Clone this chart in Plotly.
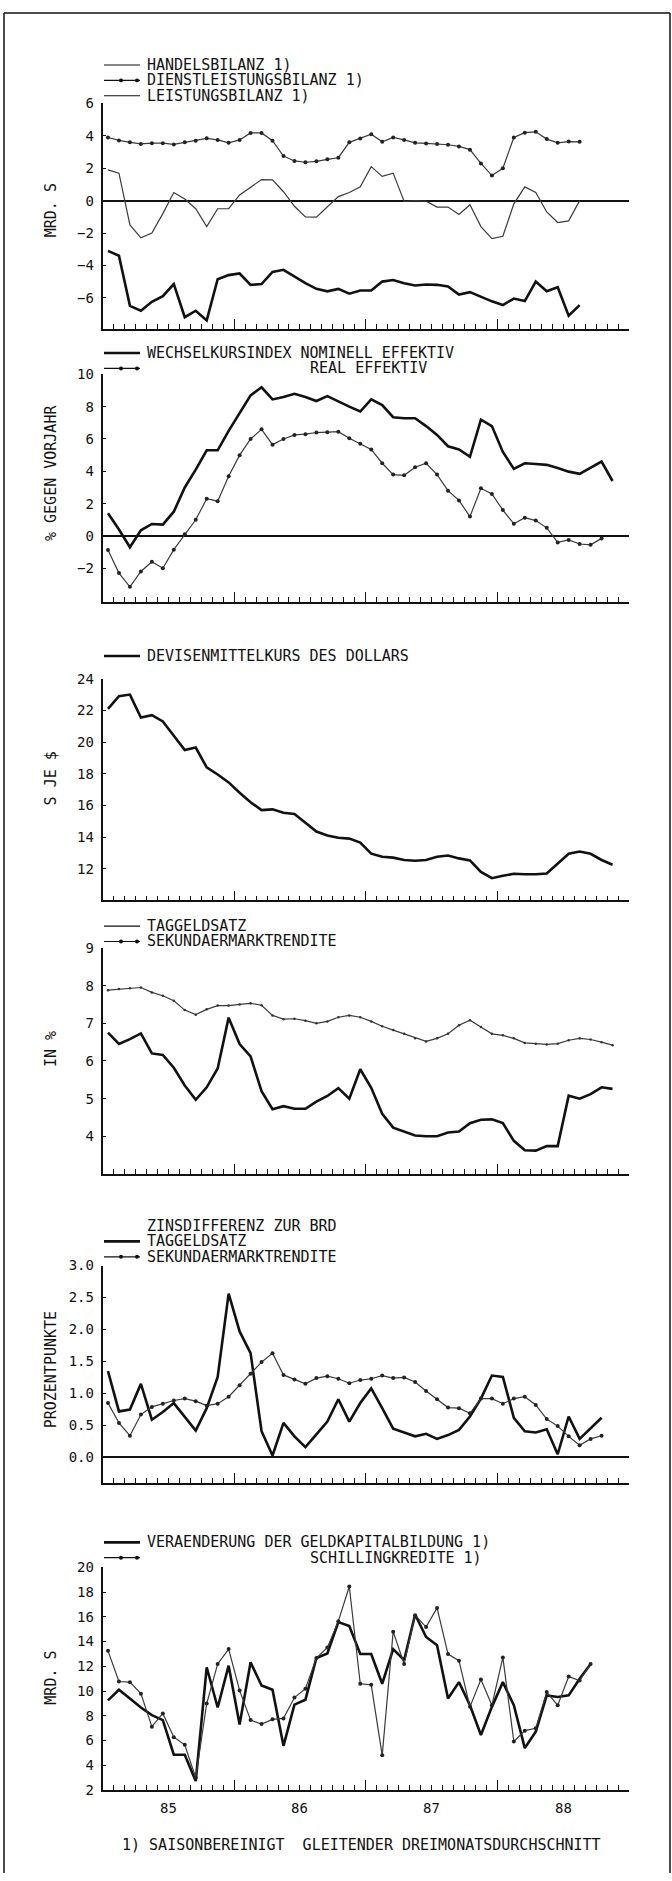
import plotly.graph_objects as go

W, H = 672, 1881
X_LEFT, X_RIGHT = 102.5, 629.0
FONT = "DejaVu Sans Mono"

# ---------------- data (monthly, Jan 1985 onwards) ----------------
handelsbilanz = [-3.1, -3.4, -6.5, -6.8, -6.25, -5.9, -5.15, -7.2, -6.8, -7.4,
                 -4.85, -4.6, -4.5, -5.2, -5.15, -4.4, -4.27, -4.7, -5.1, -5.45,
                 -5.6, -5.45, -5.75, -5.55, -5.55, -5.0, -4.9, -5.1, -5.24, -5.18,
                 -5.2, -5.3, -5.8, -5.65, -5.95, -6.22, -6.45, -6.05, -6.2, -5.0,
                 -5.6, -5.35, -7.1, -6.45]
dienstleistungsbilanz = [3.9, 3.72, 3.6, 3.5, 3.55, 3.55, 3.47, 3.6, 3.7, 3.85,
                         3.75, 3.57, 3.75, 4.18, 4.18, 3.7, 2.75, 2.45, 2.37, 2.43,
                         2.55, 2.65, 3.6, 3.84, 4.1, 3.63, 3.9, 3.75, 3.57, 3.53,
                         3.5, 3.45, 3.35, 3.15, 2.3, 1.55, 2.0, 3.9, 4.2, 4.25,
                         3.8, 3.57, 3.65, 3.63]
leistungsbilanz = [1.9, 1.7, -1.5, -2.3, -2.0, -0.8, 0.5, 0.1, -0.5, -1.6,
                   -0.5, -0.5, 0.35, 0.8, 1.3, 1.28, 0.55, -0.35, -1.0, -1.02,
                   -0.4, 0.25, 0.5, 0.85, 2.1, 1.5, 1.7, -0.05, 0.0, -0.03,
                   -0.4, -0.4, -0.85, -0.25, -1.6, -2.35, -2.2, -0.2, 0.85, 0.5,
                   -0.7, -1.35, -1.25, 0.0]

wk_nominell = [1.4, 0.4, -0.7, 0.35, 0.74, 0.7, 1.5, 3.0, 4.1, 5.3,
               5.3, 6.5, 7.6, 8.7, 9.2, 8.45, 8.6, 8.8, 8.6, 8.35,
               8.65, 8.3, 8.0, 7.7, 8.45, 8.1, 7.35, 7.28, 7.28, 6.8,
               6.25, 5.55, 5.35, 4.9, 7.2, 6.8, 5.2, 4.15, 4.5, 4.45,
               4.4, 4.2, 3.98, 3.84, 4.2, 4.6, 3.4]
wk_real = [-0.87, -2.3, -3.15, -2.2, -1.6, -2.0, -0.85, 0.1, 1.0, 2.3,
           2.15, 3.7, 5.0, 6.0, 6.6, 5.65, 6.0, 6.25, 6.3, 6.4,
           6.42, 6.45, 6.05, 5.7, 5.35, 4.5, 3.8, 3.75, 4.25, 4.5,
           3.8, 2.8, 2.2, 1.2, 2.95, 2.6, 1.6, 0.75, 1.13, 0.95,
           0.5, -0.4, -0.25, -0.5, -0.55, -0.15]

dollar_kurs = [22.1, 22.9, 23.0, 21.55, 21.7, 21.3, 20.4, 19.5, 19.65, 18.4,
               17.95, 17.45, 16.8, 16.2, 15.7, 15.75, 15.53, 15.45, 14.9, 14.35,
               14.1, 13.95, 13.9, 13.65, 12.95, 12.75, 12.7, 12.55, 12.5, 12.55,
               12.75, 12.83, 12.65, 12.52, 11.8, 11.4, 11.55, 11.68, 11.65, 11.65,
               11.7, 12.3, 12.94, 13.08, 12.94, 12.55, 12.25]

taggeldsatz = [6.75, 6.45, 6.58, 6.73, 6.2, 6.16, 5.82, 5.35, 4.97, 5.3,
               5.8, 7.15, 6.45, 6.12, 5.2, 4.72, 4.8, 4.73, 4.73, 4.92,
               5.07, 5.28, 5.0, 5.78, 5.29, 4.6, 4.23, 4.12, 4.02, 4.0,
               4.0, 4.1, 4.13, 4.35, 4.44, 4.45, 4.35, 3.88, 3.63, 3.62,
               3.74, 3.74, 5.08, 5.0, 5.12, 5.3, 5.26]
sekundaermarkt = [7.88, 7.91, 7.93, 7.95, 7.82, 7.73, 7.6, 7.35, 7.23, 7.37,
                  7.47, 7.47, 7.5, 7.53, 7.48, 7.21, 7.11, 7.12, 7.07, 7.0,
                  7.05, 7.16, 7.21, 7.16, 7.05, 6.92, 6.82, 6.72, 6.6, 6.52,
                  6.6, 6.72, 6.95, 7.08, 6.9, 6.72, 6.68, 6.6, 6.48, 6.46,
                  6.44, 6.46, 6.55, 6.6, 6.57, 6.5, 6.42]

diff_taggeld = [1.35, 0.72, 0.75, 1.15, 0.59, 0.71, 0.85, 0.64, 0.42, 0.77,
                1.26, 2.56, 1.97, 1.63, 0.41, 0.03, 0.54, 0.33, 0.16, 0.36,
                0.56, 0.91, 0.56, 0.85, 1.08, 0.77, 0.45, 0.39, 0.33, 0.37,
                0.29, 0.35, 0.43, 0.64, 0.92, 1.28, 1.26, 0.62, 0.41, 0.39,
                0.44, 0.05, 0.64, 0.29, 0.46, 0.62]
diff_sekundaer = [0.85, 0.54, 0.34, 0.67, 0.79, 0.84, 0.89, 0.92, 0.88, 0.81,
                  0.84, 0.95, 1.13, 1.31, 1.49, 1.63, 1.29, 1.22, 1.15, 1.24,
                  1.27, 1.23, 1.16, 1.21, 1.23, 1.28, 1.24, 1.25, 1.18, 1.04,
                  0.91, 0.78, 0.77, 0.69, 0.92, 0.92, 0.84, 0.92, 0.95, 0.82,
                  0.6, 0.49, 0.33, 0.19, 0.29, 0.34]

geldkapital = [9.25, 10.1, 9.4, 8.67, 8.05, 7.65, 4.85, 4.85, 2.72, 11.92,
               8.67, 12.05, 7.3, 12.32, 10.45, 10.1, 5.57, 8.9, 9.3, 12.67,
               13.04, 15.57, 15.25, 12.99, 12.99, 10.59, 13.39, 12.5, 16.19, 14.37,
               13.71, 9.39, 10.72, 8.85, 6.45, 8.72, 10.72, 8.85, 5.39, 6.72,
               9.65, 9.52, 9.65, 10.99, 12.19]
schillingkredite = [13.25, 10.77, 10.72, 9.79, 7.12, 8.19, 6.27, 5.65, 2.99, 8.99,
                    12.19, 13.39, 10.05, 7.65, 7.33, 7.71, 7.79, 9.47, 10.19, 12.67,
                    13.52, 15.65, 18.45, 10.59, 10.5, 4.8, 14.8, 12.19, 16.13, 15.17,
                    16.72, 12.99, 12.45, 8.72, 10.93, 8.85, 12.72, 5.92, 6.8, 6.99,
                    9.92, 8.85, 11.17, 10.85, 12.19]

year_labels = ["85", "86", "87", "88"]
ticks_p1 = [-6, -4, -2, 0, 2, 4, 6]
ticks_p2 = [-2, 0, 2, 4, 6, 8, 10]
ticks_p3 = [12, 14, 16, 18, 20, 22, 24]
ticks_p4 = [4, 5, 6, 7, 8, 9]
ticks_p5 = [0.0, 0.5, 1.0, 1.5, 2.0, 2.5, 3.0]
ticks_p6 = [2, 4, 6, 8, 10, 12, 14, 16, 18, 20]


def mx(vals):
    return [i + 0.5 for i in range(len(vals))]


def py(p):
    return 1 - p / H


def pxx(p):
    return p / W


panels = [
    dict(top=96.3, bottom=323.3, rng=[-7.9, 6.0], ticks=ticks_p1, zero=True,
         title="MRD. S", tcy=204, fmt=None),
    dict(top=369.5, bottom=599.3, rng=[-4.1, 10.0], ticks=ticks_p2, zero=True,
         title="% GEGEN VORJAHR", tcy=469, fmt=None),
    dict(top=676.5, bottom=900.0, rng=[10.0, 24.0], ticks=ticks_p3, zero=False,
         title="S JE $", tcy=777, fmt=None),
    dict(top=948.0, bottom=1176.0, rng=[3.0, 9.0], ticks=ticks_p4, zero=False,
         title="IN %", tcy=1050, fmt=None),
    dict(top=1268.3, bottom=1487.7, rng=[-0.4, 3.0], ticks=ticks_p5, zero=True,
         title="PROZENTPUNKTE", tcy=1373, fmt=".1f"),
    dict(top=1572.7, bottom=1797.3, rng=[2.0, 20.0], ticks=ticks_p6, zero=False,
         title="MRD. S", tcy=1684, fmt=None),
]

THICK = dict(color="#111111", width=2.6)
THIN = dict(color="#3a3a3a", width=1.2)
MARK = dict(size=4, color="#222222")
MARK_SMALL = dict(size=2.5, color="#333333")

fig = go.Figure()


def add(k, vals, style):
    ax = "" if k == 1 else str(k)
    common = dict(x=mx(vals), y=vals, xaxis="x" + ax, yaxis="y" + ax,
                  hoverinfo="skip")
    if style == "thick":
        fig.add_trace(go.Scatter(mode="lines", line=THICK, **common))
    elif style == "thin":
        fig.add_trace(go.Scatter(mode="lines", line=THIN, **common))
    elif style == "marker_small":
        fig.add_trace(go.Scatter(mode="lines+markers", line=THIN,
                                 marker=MARK_SMALL, **common))
    else:
        fig.add_trace(go.Scatter(mode="lines+markers", line=THIN,
                                 marker=MARK, **common))


add(1, handelsbilanz, "thick")
add(1, dienstleistungsbilanz, "marker")
add(1, leistungsbilanz, "thin")
add(2, wk_nominell, "thick")
add(2, wk_real, "marker")
add(3, dollar_kurs, "thick")
add(4, sekundaermarkt, "marker_small")
add(4, taggeldsatz, "thick")
add(5, diff_taggeld, "thick")
add(5, diff_sekundaer, "marker")
add(6, geldkapital, "thick")
add(6, schillingkredite, "marker")

layout = dict(width=W, height=H, margin=dict(l=0, r=0, t=0, b=0),
              paper_bgcolor="white", plot_bgcolor="white", showlegend=False,
              font=dict(family=FONT, size=14, color="#111111"))

for k, p in enumerate(panels, start=1):
    ax = "" if k == 1 else str(k)
    layout["xaxis" + ax] = dict(
        domain=[X_LEFT / W, X_RIGHT / W], range=[0, 48], anchor="y" + ax,
        showline=True, linecolor="#111111", linewidth=1.5, mirror=False,
        tickmode="linear", tick0=0, dtick=12, ticks="inside", ticklen=10,
        tickwidth=1.3, tickcolor="#111111",
        minor=dict(tick0=0, dtick=1, ticks="inside", ticklen=5, tickwidth=1,
                   tickcolor="#111111"),
        showticklabels=False, showgrid=False, zeroline=False, fixedrange=True)
    ydict = dict(
        domain=[py(p["bottom"]), py(p["top"])], range=p["rng"], anchor="x" + ax,
        showline=True, linecolor="#111111", linewidth=1.5,
        tickmode="array", tickvals=p["ticks"], ticks="inside", ticklen=4,
        tickwidth=1, tickcolor="#111111", ticklabelstandoff=4,
        tickfont=dict(family=FONT, size=14, color="#111111"),
        showgrid=False, zeroline=p["zero"], zerolinecolor="#111111",
        zerolinewidth=1.5, fixedrange=True)
    if p["fmt"]:
        ydict["tickformat"] = p["fmt"]
    layout["yaxis" + ax] = ydict

fig.update_layout(**layout)

shapes = []
annotations = []

# frame
for (x0, y0, x1, y1) in [(4, 5, 670, 5), (4, 5, 4, 1881), (670, 5, 670, 1881)]:
    shapes.append(dict(type="line", xref="paper", yref="paper",
                       x0=pxx(x0), y0=py(y0), x1=pxx(x1), y1=py(y1),
                       line=dict(color="#111111", width=1.5)))


def legend_sample(y, kind):
    w = 2.6 if kind == "thick" else 1.2
    shapes.append(dict(type="line", xref="paper", yref="paper",
                       x0=pxx(104), x1=pxx(140), y0=py(y), y1=py(y),
                       line=dict(color="#111111", width=w)))
    if kind == "marker":
        for cx in (121, 137):
            shapes.append(dict(type="circle", xref="paper", yref="paper",
                               x0=pxx(cx - 2), x1=pxx(cx + 2),
                               y0=py(y + 2), y1=py(y - 2),
                               fillcolor="#111111", line=dict(width=0)))


def legend_text(y, text, text_x=145):
    annotations.append(dict(text=text, xref="paper", yref="paper",
                            x=pxx(text_x), y=py(y), xanchor="left", yanchor="middle",
                            showarrow=False,
                            font=dict(family=FONT, size=15, color="#111111")))


legend_sample(57.5, "thin")
legend_text(57.5, "HANDELSBILANZ 1)")
legend_sample(73.0, "marker")
legend_text(73.0, "DIENSTLEISTUNGSBILANZ 1)")
legend_sample(88.5, "thin")
legend_text(88.5, "LEISTUNGSBILANZ 1)")

legend_sample(348.0, "thick")
legend_text(348.0, "WECHSELKURSINDEX NOMINELL EFFEKTIV")
legend_sample(363.5, "marker")
legend_text(363.5, "REAL EFFEKTIV", text_x=308)

legend_sample(653.5, "thick")
legend_text(653.5, "DEVISENMITTELKURS DES DOLLARS")

legend_sample(926.0, "thin")
legend_text(926.0, "TAGGELDSATZ")
legend_sample(941.5, "marker")
legend_text(941.5, "SEKUNDAERMARKTRENDITE")

legend_text(1228.5, "ZINSDIFFERENZ ZUR BRD")
legend_sample(1244.0, "thick")
legend_text(1244.0, "TAGGELDSATZ")
legend_sample(1259.5, "marker")
legend_text(1259.5, "SEKUNDAERMARKTRENDITE")

legend_sample(1547.5, "thick")
legend_text(1547.5, "VERAENDERUNG DER GELDKAPITALBILDUNG 1)")
legend_sample(1563.0, "marker")
legend_text(1563.0, "SCHILLINGKREDITE 1)", text_x=308)

# y-axis titles
for p in panels:
    annotations.append(dict(text=p["title"], xref="paper", yref="paper",
                            x=pxx(51), y=py(p["tcy"]), xanchor="center",
                            yanchor="middle", textangle=-90, showarrow=False,
                            font=dict(family=FONT, size=15, color="#111111")))

# year labels on bottom axis
for j, lab in enumerate(year_labels):
    annotations.append(dict(text=lab, xref="x6", yref="paper", x=12 * j + 6,
                            y=py(1815), xanchor="center", yanchor="middle",
                            showarrow=False,
                            font=dict(family=FONT, size=14, color="#111111")))

annotations.append(dict(text="1) SAISONBEREINIGT  GLEITENDER DREIMONATSDURCHSCHNITT",
                        xref="paper", yref="paper", x=pxx(120), y=py(1853),
                        xanchor="left", yanchor="middle", showarrow=False,
                        font=dict(family=FONT, size=15, color="#111111")))

fig.update_layout(shapes=shapes, annotations=annotations)
fig.write_html("out.html")
